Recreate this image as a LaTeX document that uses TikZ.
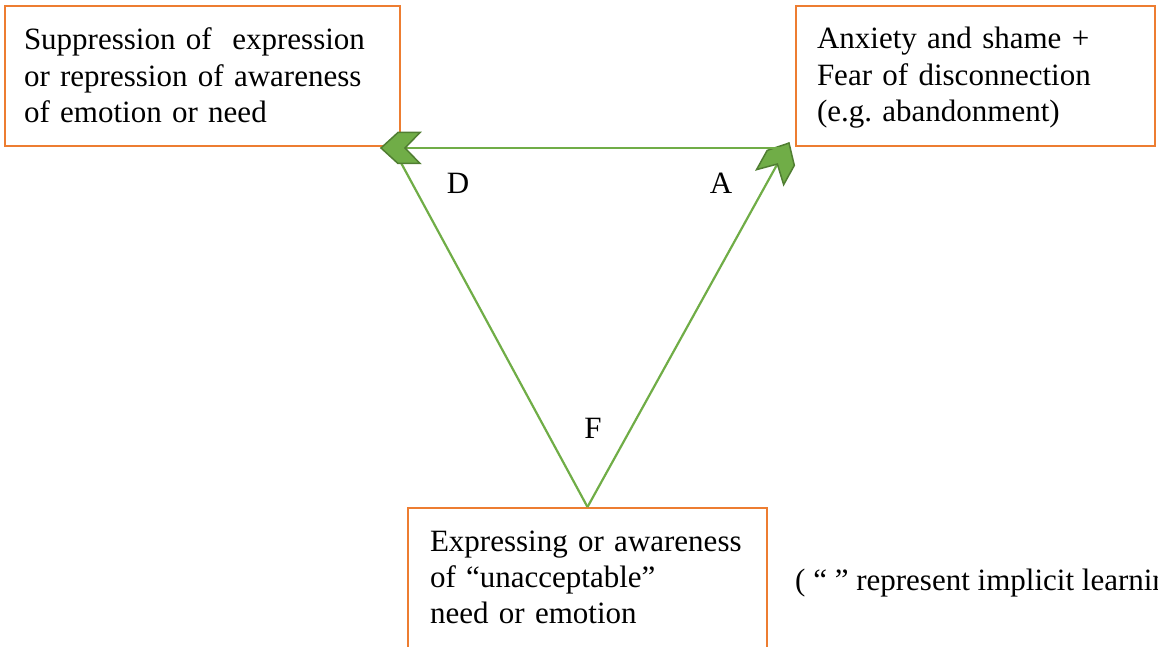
\documentclass[tikz,border=0pt]{standalone}
\usepackage{fontspec}
\setmainfont{Liberation Serif}
\frenchspacing
\usetikzlibrary{decorations.markings}
\definecolor{lgreen}{HTML}{70AD47}
\definecolor{dgreen}{HTML}{507E32}
\definecolor{orng}{HTML}{ED7D31}
\tikzset{
  box/.style={draw=orng, line width=2pt, anchor=north west, align=left, inner ysep=0pt,
    font=\fontsize{31}{36.3}\selectfont\frenchspacing},
  lbl/.style={font=\fontsize{31}{36.3}\selectfont\frenchspacing, inner sep=0pt},
  conn/.style={draw=lgreen, line width=2.2pt},
  chev/.style={conn, postaction={decorate, decoration={markings, mark=at position 1 with {
    \filldraw[fill=lgreen, draw=dgreen, line width=1.5pt, line join=miter]
      (0,0) -- (-17,15.5) -- (-39,15.5) -- (-24,0) -- (-39,-15.5) -- (-17,-15.5) -- cycle;}}}},
}
\begin{document}
\begin{tikzpicture}[x=1pt,y=1pt]
\useasboundingbox (0,0) rectangle (1158,-647);
\clip (0,0) rectangle (1158,-647);
\node[box, text width=357pt, inner xsep=19pt, text height=44pt, text depth=96pt] (supp) at (4,-5)
  {Suppression of\ \ expression\\or repression of awareness\\of emotion or need};
\node[box, text width=317pt, inner xsep=21pt, text height=43pt, text depth=97pt] (anx) at (795,-5)
  {Anxiety and shame +\\Fear of disconnection\\(e.g. abandonment)};
\node[box, text width=315pt, inner xsep=22pt, text height=43pt, text depth=150pt] (expr) at (407,-507)
  {Expressing or awareness\\of “unacceptable”\\need or emotion};
\node[lbl, anchor=base west] (note) at (795,-590) {( “ ” represent implicit learning)};
\node[lbl] (ld) at (458,-183) {D};
\node[lbl] (la) at (721,-183) {A};
\node[lbl] (lf) at (593,-428) {F};
\coordinate (dv) at (393,-148);
\coordinate (dt) at (381,-148);
\coordinate (av) at (783,-148);
\coordinate (at) at (789,-143);
\draw[conn] (dv) -- (expr.north);
\draw[chev] (expr.north) -- (at);
\draw[chev] (av) -- (dt);
\end{tikzpicture}
\end{document}
